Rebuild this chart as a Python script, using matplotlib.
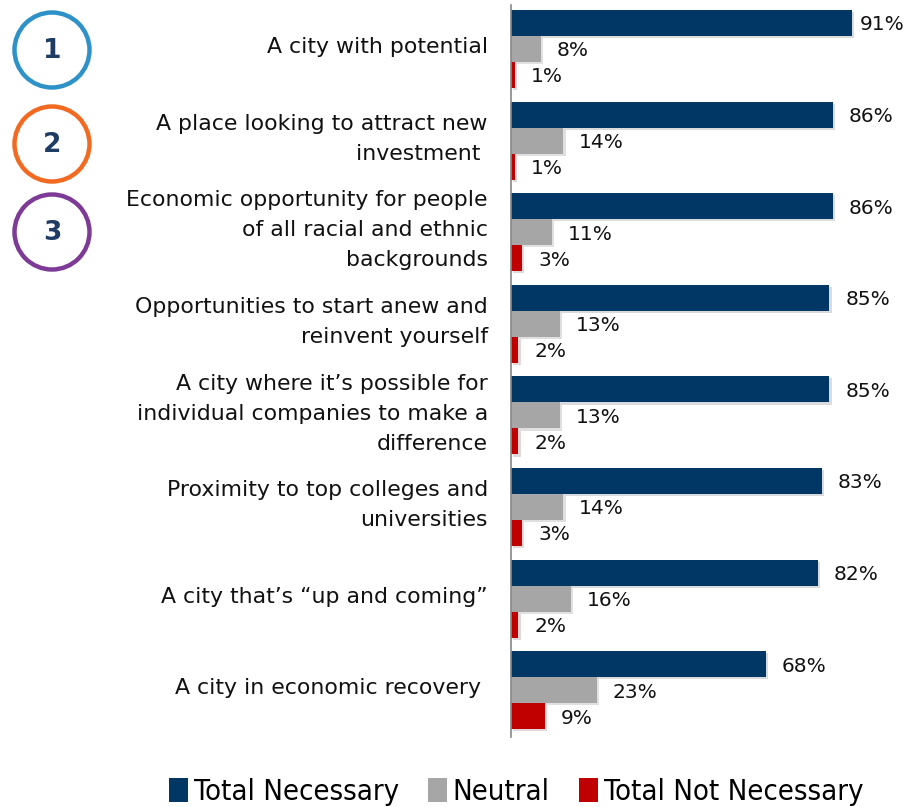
import numpy as np
import matplotlib.pyplot as plt
from matplotlib.patches import Circle, Patch
import matplotlib.patheffects as pe

categories = [
    "A city with potential",
    "A place looking to attract new\ninvestment ",
    "Economic opportunity for people\nof all racial and ethnic\nbackgrounds",
    "Opportunities to start anew and\nreinvent yourself",
    "A city where it\u2019s possible for\nindividual companies to make a\ndifference",
    "Proximity to top colleges and\nuniversities",
    "A city that\u2019s \u201cup and coming\u201d",
    "A city in economic recovery ",
]
necessary = [91, 86, 86, 85, 85, 83, 82, 68]
neutral = [8, 14, 11, 13, 13, 14, 16, 23]
not_necessary = [1, 1, 3, 2, 2, 3, 2, 9]
series_names = ["Total Necessary", "Neutral", "Total Not Necessary"]
colors = ["#003764", "#A6A6A6", "#C00000"]
badges = ["1", "2", "3"]
badge_colors = ["#2E92C8", "#F26A22", "#7D3A97"]

W, H = 907, 807
fig = plt.figure(figsize=(W / 100, H / 100), dpi=100)

# bar area: axis line at x=511px, 3.747 px per percent
x0 = 511
ax = fig.add_axes([x0 / W, (H - 737) / H, (W - x0) / W, (737 - 5) / H])
xmax = (W - x0) / 3.747
ax.set_xlim(0, xmax)
ax.set_ylim(7.51, -0.48)

y = np.arange(len(categories))
h = 0.284
shadow = [pe.SimplePatchShadow(offset=(1.5, -1.5), alpha=0.15), pe.Normal()]
for k, vals in enumerate([necessary, neutral, not_necessary]):
    pos = y + (k - 1) * h
    bars = ax.barh(pos, vals, height=h, color=colors[k])
    for b in bars:
        b.set_path_effects(shadow)
    for p, v in zip(pos, vals):
        # keep the widest label inside the figure
        tx = min(v + 4.2, xmax - 12.5)
        ax.text(tx, p + 0.02, f"{v}%", va="center", ha="left",
                fontsize=14.5, color="#111111")

for cy, lab in zip(y, categories):
    ax.text(-6.2, cy - 0.02, lab, ha="right", va="center", fontsize=15.8,
            color="#111111", linespacing=1.62)

ax.set_xticks([])
ax.set_yticks([])
for s in ["top", "right", "bottom"]:
    ax.spines[s].set_visible(False)
ax.spines["left"].set_color("#888888")
ax.spines["left"].set_linewidth(1.2)

# numbered badges in the top-left corner
bx = fig.add_axes([0, 0, 1, 1], zorder=-1)
bx.set_xlim(0, W)
bx.set_ylim(H, 0)
bx.axis("off")
for (cy, num, c) in zip([50, 144, 232], badges, badge_colors):
    bx.add_patch(Circle((52, cy), 37.5, fill=False, edgecolor=c, linewidth=3.2))
    bx.text(52, cy + 1, num, ha="center", va="center", fontsize=19,
            fontweight="bold", color="#1F3C64")

handles = [Patch(facecolor=c, edgecolor="none") for c in colors]
fig.legend(handles, series_names, loc="center", bbox_to_anchor=(516 / W, 1 - 792 / H),
           ncol=3, frameon=False, handlelength=0.65, handleheight=0.85,
           handletextpad=0.2, columnspacing=1.0,
           prop={"family": "DejaVu Sans", "stretch": "condensed", "size": 21})

fig.savefig("out.png", dpi=100)
